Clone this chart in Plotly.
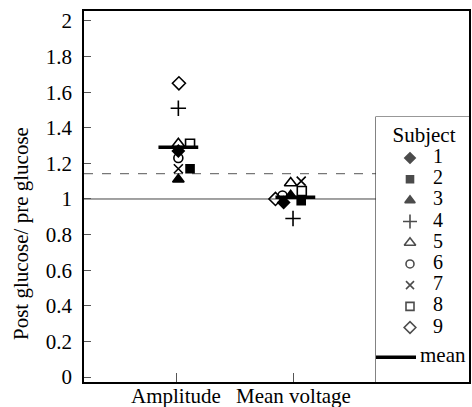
import plotly.graph_objects as go

# ---- data ----
categories = ["Amplitude", "Mean voltage"]
subjects = ["1", "2", "3", "4", "5", "6", "7", "8", "9"]
amplitude = [1.27, 1.17, 1.11, 1.51, 1.31, 1.23, 1.17, 1.31, 1.65]
mean_voltage = [0.98, 0.99, 1.02, 0.89, 1.09, 1.02, 1.10, 1.045, 1.00]
group_means = [1.29, 1.01]
baseline = 1.0
dashed_level = 1.143

# ---- styling / layout helpers ----
amp_jitter = [0.02, 0.12, 0.02, 0.02, 0.02, 0.02, 0.02, 0.12, 0.025]
mv_jitter = [-0.08, 0.07, -0.02, 0.0, -0.02, -0.09, 0.07, 0.075, -0.15]
symbols = ["diamond", "square", "triangle-up", "cross-thin-open", "triangle-up-open",
           "circle-open", "x-thin-open", "square-open", "diamond-open"]
sizes = [9, 8, 10, 11, 11, 9, 9, 9, 10]
FONT = "Liberation Serif"
FS = 21
LFS = 20

W, H = 472, 407
ML, MR, MT, MB = 84, 3, 11, 25
PW = W - ML - MR
PH = H - MT - MB
LEG_LEFT, LEG_TOP = 376, 117
leg_x0 = (LEG_LEFT - ML) / PW
leg_y1 = (H - MB - LEG_TOP) / PH

fig = go.Figure()

cat_pos = [1, 2]
for i, s in enumerate(subjects):
    fig.add_trace(go.Scatter(
        x=[cat_pos[0] + amp_jitter[i], cat_pos[1] + mv_jitter[i]],
        y=[amplitude[i], mean_voltage[i]],
        mode="markers",
        marker=dict(symbol=symbols[i], size=sizes[i], color="black",
                    line=dict(color="black", width=1.6)),
        showlegend=False, hoverinfo="skip"))

# mean bars
half = 0.17
mx, my = [], []
for c, m in zip(cat_pos, group_means):
    mx += [c - half + 0.02, c + half + 0.02, None]
    my += [m, m, None]
fig.add_trace(go.Scatter(x=mx, y=my, mode="lines",
                         line=dict(color="black", width=3.5),
                         showlegend=False, hoverinfo="skip"))

# ---- legend drawn on its own small axes ----
rows = list(range(1, 10))
fig.add_trace(go.Scatter(
    x=[34] * 9, y=rows, mode="markers", xaxis="x2", yaxis="y2",
    marker=dict(symbol=symbols, size=[s - 1 for s in sizes], color="black",
                line=dict(color="black", width=1.6)),
    showlegend=False, hoverinfo="skip"))
fig.add_trace(go.Scatter(
    x=[62] * 9, y=rows, mode="text", text=subjects, xaxis="x2", yaxis="y2",
    textfont=dict(family=FONT, size=LFS, color="black"),
    showlegend=False, hoverinfo="skip"))
mean_row = 10.4
fig.add_trace(go.Scatter(
    x=[0, 40], y=[mean_row, mean_row], mode="lines", xaxis="x2", yaxis="y2",
    line=dict(color="black", width=3.5), showlegend=False, hoverinfo="skip"))
fig.add_trace(go.Scatter(
    x=[44], y=[mean_row], mode="text", text=["mean"], textposition="middle right",
    xaxis="x2", yaxis="y2", textfont=dict(family=FONT, size=FS, color="black"),
    showlegend=False, hoverinfo="skip"))
fig.add_trace(go.Scatter(
    x=[48], y=[0], mode="text", text=["Subject"], xaxis="x2", yaxis="y2",
    textfont=dict(family=FONT, size=FS, color="black"),
    showlegend=False, hoverinfo="skip"))

shapes = [
    dict(type="line", xref="paper", yref="y", x0=0, x1=1, y0=baseline, y1=baseline,
         line=dict(color="#444444", width=1), layer="below"),
    dict(type="line", xref="paper", yref="y", x0=0, x1=1, y0=dashed_level, y1=dashed_level,
         line=dict(color="#777777", width=1.2, dash="dash"), layer="below"),
    dict(type="rect", xref="paper", yref="paper", x0=leg_x0, x1=1, y0=0, y1=leg_y1,
         fillcolor="white", line=dict(color="#333333", width=1.2), layer="below"),
]

annotations = [dict(text="Post glucose/ pre glucose", textangle=-90,
                    xref="paper", yref="paper",
                    x=(21 - ML) / PW, y=(H - MB - 234) / PH,
                    xanchor="center", yanchor="middle", showarrow=False,
                    font=dict(family=FONT, size=FS, color="black"))]
for c, name in zip(cat_pos, categories):
    annotations.append(dict(text=name, xref="x", yref="paper", x=c, y=0,
                            xanchor="center", yanchor="middle", yshift=-14,
                            showarrow=False,
                            font=dict(family=FONT, size=FS, color="black")))

fig.update_layout(
    width=W, height=H,
    margin=dict(l=ML, r=MR, t=MT, b=MB),
    paper_bgcolor="white", plot_bgcolor="white",
    font=dict(family=FONT, size=FS, color="black"),
    shapes=shapes,
    xaxis=dict(range=[0.2137, 3.504], tickvals=cat_pos, showticklabels=False,
               ticks="inside", ticklen=9, tickwidth=1, tickcolor="#555",
               showline=True, linecolor="black", linewidth=1.6, mirror=True,
               showgrid=False, zeroline=False, fixedrange=True, automargin=False),
    yaxis=dict(range=[-0.028, 2.056], tickvals=[0, 0.2, 0.4, 0.6, 0.8, 1, 1.2, 1.4, 1.6, 1.8, 2],
               ticktext=["0", "0.2", "0.4", "0.6", "0.8", "1", "1.2", "1.4", "1.6", "1.8", "2"],
               ticks="inside", ticklen=7, tickwidth=1, tickcolor="#555",
               ticklabelstandoff=6,
               showline=True, linecolor="black", linewidth=1.6, mirror=True,
               showgrid=False, zeroline=False, fixedrange=True, automargin=False,
               tickfont=dict(family=FONT, size=FS, color="black")),
    xaxis2=dict(domain=[leg_x0, 1], range=[0, 93], anchor="y2", visible=False,
                fixedrange=True),
    yaxis2=dict(domain=[0, leg_y1], range=[11.57, -0.934], anchor="x2", visible=False,
                fixedrange=True),
    annotations=annotations,
    showlegend=False,
)

fig.write_html("out.html", config={"displayModeBar": False},
               post_script="document.body.style.margin='0';")
